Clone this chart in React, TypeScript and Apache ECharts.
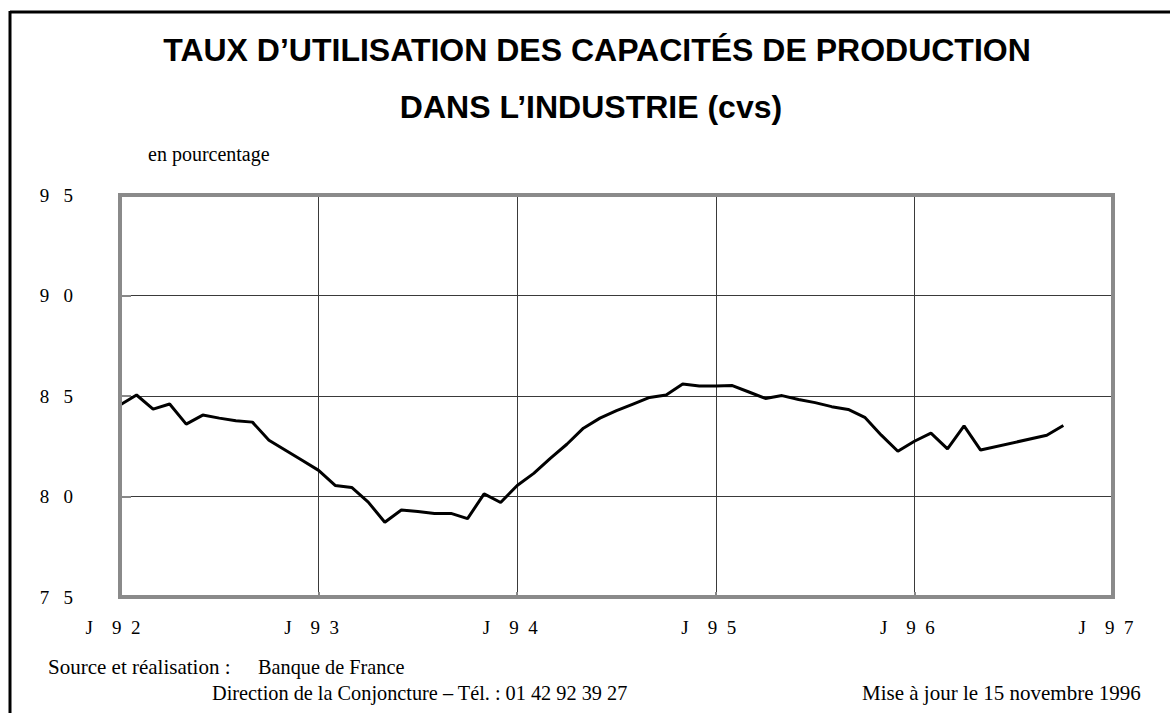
import React, { useEffect, useRef } from "react";
import * as echarts from "echarts";

// Monthly capacity utilisation rate, Jan 1992 .. Oct 1996 (null = no survey)
const months: string[] = [
  "1992-01","1992-02","1992-03","1992-04","1992-05","1992-06","1992-07","1992-08","1992-09","1992-10","1992-11","1992-12",
  "1993-01","1993-02","1993-03","1993-04","1993-05","1993-06","1993-07","1993-08","1993-09","1993-10","1993-11","1993-12",
  "1994-01","1994-02","1994-03","1994-04","1994-05","1994-06","1994-07","1994-08","1994-09","1994-10","1994-11","1994-12",
  "1995-01","1995-02","1995-03","1995-04","1995-05","1995-06","1995-07","1995-08","1995-09","1995-10","1995-11","1995-12",
  "1996-01","1996-02","1996-03","1996-04","1996-05","1996-06","1996-07","1996-08","1996-09","1996-10",
];
const values: (number | null)[] = [
  84.55, 85.05, 84.35, 84.6, 83.6, 84.05, 83.9, 83.77, 83.7, 82.8, 82.3, 81.8,
  81.3, 80.55, 80.45, 79.72, 78.72, 79.33, 79.25, 79.16, 79.16, 78.9, 80.13, 79.7,
  80.55, 81.15, 81.9, 82.6, 83.4, 83.9, 84.27, 84.6, 84.93, 85.05, 85.6, 85.5,
  85.5, 85.52, 85.2, 84.88, 85.02, 84.83, 84.67, 84.47, 84.33, 83.94, 83.05, 82.25,
  82.75, 83.15, 82.37, 83.51, 82.31, null, null, null, 83.05, 83.53,
];
const xTickLabels: string[] = ["J    9  2", "J    9  3", "J    9  4", "J    9  5", "J    9  6", "J    9  7"];
const yTicks: number[] = [75, 80, 85, 90, 95];
const yTickLabels: string[] = ["7   5", "8   0", "8   5", "9   0", "9   5"];

const titleLine1 = "TAUX D’UTILISATION DES CAPACITÉS DE PRODUCTION";
const titleLine2 = "DANS L’INDUSTRIE (cvs)";
const unitText = "en pourcentage";
const sourceLabel = "Source et réalisation :";
const sourceName = "Banque de France";
const directionText = "Direction de la Conjoncture – Tél. : 01 42 92 39 27";
const updateText = "Mise à jour le 15 novembre 1996";

const SERIF = "'Liberation Serif', 'Times New Roman', serif";
const SANS = "'Liberation Sans', Arial, sans-serif";

export default function App() {
  const ref = useRef<HTMLDivElement>(null);
  useEffect(() => {
    document.body.style.margin = "0";
    const chart = echarts.init(ref.current!, undefined, { renderer: "svg" });
    const data = values.map((v, i) => [i, v === null ? "-" : v]);
    const G = { left: 120, top: 195, right: 57, bottom: 116 };
    const W = 1170, H = 713;
    const footText = (text: string, x: number, y: number, size: number) => ({
      type: "text", x, y,
      style: { text, font: `${size}px ${SERIF}`, fill: "#000", textVerticalAlign: "middle", textAlign: "left" },
    });
    chart.setOption({
      animation: false,
      backgroundColor: "#fff",
      grid: { ...G, show: false },
      xAxis: {
        type: "value", min: 0, max: 60, interval: 12,
        axisLine: { show: false },
        axisTick: { show: true, inside: true, length: 5, lineStyle: { color: "#888", width: 2 } },
        splitLine: { show: true, lineStyle: { color: "#3a3a3a", width: 1 } },
        axisLabel: {
          margin: 21, color: "#000", fontFamily: SERIF, fontSize: 19,
          padding: [0, 14, 0, 0],
          formatter: (v: number) => xTickLabels[Math.round(v / 12)] ?? "",
        },
      },
      yAxis: {
        type: "value", min: 75, max: 95, interval: 5,
        axisLine: { show: false },
        axisTick: { show: true, inside: true, length: 11, lineStyle: { color: "#888", width: 2 } },
        splitLine: { show: true, lineStyle: { color: "#3a3a3a", width: 1 } },
        axisLabel: {
          margin: 47, color: "#000", fontFamily: SERIF, fontSize: 19,
          formatter: (v: number) => yTickLabels[yTicks.indexOf(v)] ?? "",
        },
      },
      series: [{
        type: "line", data, showSymbol: false, symbol: "none", connectNulls: true,
        lineStyle: { color: "#000", width: 3 }, z: 5,
      }],
      graphic: [
        { type: "rect", z: 50, silent: true,
          shape: { x: G.left, y: G.top, width: W - G.left - G.right, height: H - G.top - G.bottom },
          style: { fill: "none", stroke: "#8a8a8a", lineWidth: 4 } },
        { type: "line", z: 50, shape: { x1: 10, y1: 12, x2: W, y2: 12 }, style: { stroke: "#000", lineWidth: 3 } },
        { type: "line", z: 50, shape: { x1: 10, y1: 11, x2: 10, y2: H }, style: { stroke: "#000", lineWidth: 3 } },
        { type: "text", x: 597, y: 50, style: { text: titleLine1, font: `bold 32px ${SANS}`, fill: "#000", textAlign: "center", textVerticalAlign: "middle" } },
        { type: "text", x: 591, y: 107, style: { text: titleLine2, font: `bold 32px ${SANS}`, fill: "#000", textAlign: "center", textVerticalAlign: "middle" } },
        { type: "text", x: 148, y: 154, style: { text: unitText, font: `20px ${SERIF}`, fill: "#000", textAlign: "left", textVerticalAlign: "middle" } },
        footText(sourceLabel, 48, 667, 21),
        footText(sourceName, 258, 667, 20.3),
        footText(directionText, 212, 693, 20.3),
        footText(updateText, 862, 693, 21),
      ],
    });
    return () => chart.dispose();
  }, []);
  return <div ref={ref} style={{ width: 1170, height: 713 }} />;
}
